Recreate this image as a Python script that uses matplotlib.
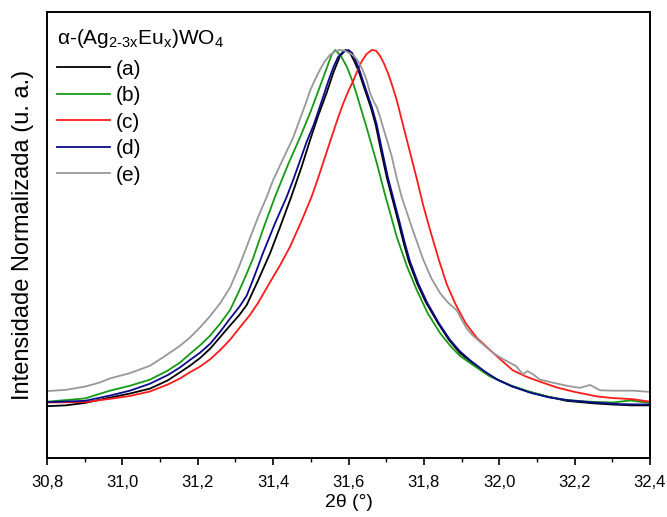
import matplotlib
matplotlib.use("Agg")
import matplotlib.pyplot as plt
from matplotlib.ticker import MultipleLocator, FuncFormatter

plt.rcParams['font.family'] = ['Liberation Sans', 'DejaVu Sans']
plt.rcParams['mathtext.fontset'] = 'custom'
plt.rcParams['mathtext.rm'] = 'Liberation Sans'
plt.rcParams['mathtext.it'] = 'Liberation Sans'

# (a) black
x_a = [30.800, 30.850, 30.901, 30.967, 31.020, 31.073, 31.120, 31.153, 31.179, 31.206,
       31.233, 31.260, 31.286, 31.310, 31.330, 31.360, 31.392, 31.420, 31.448, 31.475,
       31.498, 31.520, 31.542, 31.560, 31.577, 31.592, 31.604, 31.614, 31.627, 31.637,
       31.645, 31.659, 31.672, 31.687, 31.702, 31.715, 31.732, 31.747, 31.760, 31.782,
       31.805, 31.838, 31.866, 31.896, 31.930, 31.970, 32.000, 32.036, 32.080, 32.130,
       32.179, 32.250, 32.302, 32.350, 32.400]
y_a = [0.127, 0.129, 0.135, 0.148, 0.158, 0.170, 0.190, 0.210, 0.226, 0.245,
       0.268, 0.297, 0.325, 0.350, 0.375, 0.435, 0.502, 0.570, 0.640, 0.712,
       0.779, 0.840, 0.895, 0.945, 0.984, 1.000, 0.993, 0.975, 0.948, 0.920,
       0.898, 0.860, 0.817, 0.750, 0.686, 0.640, 0.580, 0.525, 0.482, 0.428,
       0.382, 0.330, 0.290, 0.257, 0.232, 0.205, 0.190, 0.175, 0.162, 0.150,
       0.140, 0.134, 0.131, 0.129, 0.129]

# (b) green
x_b = [30.800, 30.901, 30.967, 31.020, 31.073, 31.120, 31.153, 31.179, 31.206, 31.233,
       31.260, 31.286, 31.310, 31.330, 31.347, 31.375, 31.405, 31.440, 31.471, 31.500,
       31.524, 31.542, 31.556, 31.565, 31.580, 31.595, 31.610, 31.622, 31.635, 31.648,
       31.662, 31.675, 31.697, 31.728, 31.755, 31.781, 31.810, 31.843, 31.870, 31.896,
       31.930, 31.975, 32.030, 32.082, 32.130, 32.179, 32.240, 32.302, 32.347, 32.400]
y_b = [0.138, 0.146, 0.165, 0.177, 0.192, 0.214, 0.234, 0.255, 0.276, 0.300,
       0.330, 0.363, 0.410, 0.452, 0.490, 0.565, 0.640, 0.720, 0.785, 0.850,
       0.910, 0.955, 0.990, 1.000, 0.985, 0.960, 0.925, 0.890, 0.850, 0.810,
       0.765, 0.723, 0.645, 0.542, 0.470, 0.412, 0.355, 0.306, 0.275, 0.250,
       0.228, 0.200, 0.178, 0.162, 0.150, 0.142, 0.138, 0.136, 0.141, 0.135]

# (c) red
x_c = [30.800, 30.901, 30.967, 31.020, 31.073, 31.120, 31.153, 31.179, 31.206, 31.233,
       31.260, 31.286, 31.310, 31.338, 31.360, 31.390, 31.420, 31.445, 31.475, 31.502,
       31.519, 31.535, 31.551, 31.569, 31.586, 31.600, 31.613, 31.625, 31.635, 31.648,
       31.662, 31.673, 31.684, 31.695, 31.706, 31.717, 31.728, 31.745, 31.763, 31.781,
       31.798, 31.816, 31.840, 31.861, 31.885, 31.911, 31.940, 31.975, 32.005, 32.036,
       32.070, 32.099, 32.152, 32.200, 32.259, 32.300, 32.355, 32.400]
y_c = [0.136, 0.137, 0.145, 0.152, 0.163, 0.180, 0.195, 0.210, 0.224, 0.242,
       0.265, 0.290, 0.318, 0.350, 0.380, 0.428, 0.475, 0.518, 0.580, 0.640,
       0.685, 0.730, 0.775, 0.825, 0.869, 0.900, 0.925, 0.952, 0.972, 0.990,
       1.000, 0.998, 0.985, 0.965, 0.940, 0.910, 0.877, 0.815, 0.750, 0.685,
       0.620, 0.560, 0.485, 0.425, 0.375, 0.330, 0.295, 0.265, 0.240, 0.215,
       0.200, 0.190, 0.173, 0.162, 0.151, 0.147, 0.144, 0.138]

# (d) blue
x_d = [30.800, 30.900, 30.967, 31.020, 31.073, 31.120, 31.153, 31.179, 31.206, 31.233,
       31.260, 31.286, 31.310, 31.330, 31.350, 31.373, 31.405, 31.436, 31.453, 31.470,
       31.489, 31.507, 31.520, 31.533, 31.547, 31.560, 31.572, 31.585, 31.600, 31.610,
       31.620, 31.630, 31.640, 31.648, 31.662, 31.675, 31.690, 31.705, 31.718, 31.735,
       31.750, 31.763, 31.785, 31.808, 31.840, 31.869, 31.895, 31.922, 31.960, 31.993,
       32.030, 32.082, 32.130, 32.179, 32.250, 32.320, 32.400]
y_d = [0.137, 0.140, 0.153, 0.165, 0.182, 0.203, 0.222, 0.240, 0.258, 0.280,
       0.310, 0.342, 0.370, 0.398, 0.445, 0.502, 0.575, 0.640, 0.681, 0.725,
       0.775, 0.815, 0.850, 0.886, 0.925, 0.958, 0.982, 0.995, 1.000, 0.992,
       0.972, 0.948, 0.920, 0.898, 0.860, 0.817, 0.750, 0.686, 0.640, 0.580,
       0.525, 0.482, 0.428, 0.382, 0.330, 0.290, 0.262, 0.240, 0.213, 0.193,
       0.177, 0.160, 0.149, 0.142, 0.136, 0.132, 0.131]

# (e) gray
x_e = [30.800, 30.850, 30.901, 30.940, 30.967, 31.020, 31.073, 31.110, 31.153, 31.179,
       31.206, 31.233, 31.260, 31.286, 31.310, 31.339, 31.360, 31.383, 31.400, 31.425,
       31.453, 31.471, 31.485, 31.498, 31.510, 31.524, 31.537, 31.551, 31.565, 31.577,
       31.590, 31.604, 31.615, 31.626, 31.637, 31.648, 31.657, 31.666, 31.675, 31.684,
       31.695, 31.705, 31.715, 31.728, 31.741, 31.770, 31.798, 31.820, 31.843, 31.865,
       31.887, 31.900, 31.913, 31.930, 31.945, 31.965, 31.983, 32.005, 32.029, 32.045,
       32.063, 32.075, 32.090, 32.108, 32.150, 32.185, 32.214, 32.241, 32.267, 32.300,
       32.355, 32.400]
y_e = [0.164, 0.167, 0.175, 0.185, 0.195, 0.208, 0.226, 0.248, 0.275, 0.295,
       0.320, 0.348, 0.380, 0.418, 0.470, 0.540, 0.590, 0.640, 0.681, 0.730,
       0.785, 0.830, 0.865, 0.900, 0.925, 0.951, 0.972, 0.988, 0.997, 1.000,
       0.998, 0.992, 0.985, 0.972, 0.952, 0.926, 0.895, 0.875, 0.860, 0.835,
       0.800, 0.770, 0.738, 0.686, 0.640, 0.560, 0.487, 0.440, 0.404, 0.380,
       0.362, 0.340, 0.318, 0.300, 0.288, 0.272, 0.258, 0.245, 0.233, 0.225,
       0.205, 0.213, 0.205, 0.192, 0.183, 0.176, 0.172, 0.179, 0.166, 0.165,
       0.165, 0.162]

labels = ['(a)', '(b)', '(c)', '(d)', '(e)']
colors = ['#000000', '#169a16', '#ff1a1a', '#0a0a8c', '#989898']
series = [(x_a, y_a), (x_b, y_b), (x_c, y_c), (x_d, y_d), (x_e, y_e)]

fig = plt.figure(figsize=(6.67, 5.17), dpi=100)
ax = fig.add_axes([47/667, 1-458/517, (650-47)/667, (458-12)/517])

for (xs, ys), lab, col in zip(series, labels, colors):
    ax.plot(xs, ys, color=col, lw=1.3, label=lab)

ax.set_xlim(30.8, 32.4)
ax.set_ylim(0, 1.093)
ax.xaxis.set_major_locator(MultipleLocator(0.2))
ax.xaxis.set_minor_locator(MultipleLocator(0.1))
ax.xaxis.set_major_formatter(FuncFormatter(lambda v, p: f"{v:.1f}".replace('.', ',')))
ax.set_yticks([])
ax.tick_params(axis='x', which='major', direction='out', length=5, width=1.2, labelsize=12, pad=7)
ax.tick_params(axis='x', which='minor', direction='out', length=3, width=1.0)
for s in ax.spines.values():
    s.set_linewidth(1.4)

ax.set_xlabel('2θ (°)', fontsize=14, labelpad=3)
ax.set_ylabel('Intensidade Normalizada (u. a.)', fontsize=17, labelpad=9)

title = 'α-(Ag$_{\\mathregular{2\\text{-}3x}}$Eu$_{\\mathregular{x}}$)WO$_{\\mathregular{4}}$'
leg = ax.legend(title=title, loc='upper left', bbox_to_anchor=(0.0, 0.99), frameon=False,
                fontsize=15, title_fontsize=15, handlelength=2.5, handletextpad=0.3,
                labelspacing=0.36, borderaxespad=0.1, alignment='left')
leg._legend_box.sep = 7

fig.savefig('out.png', dpi=100)
